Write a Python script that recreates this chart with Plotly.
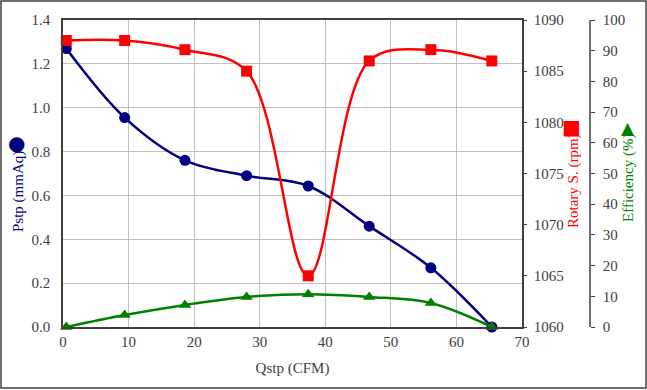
import plotly.graph_objects as go

qstp = [0.5, 9.4, 18.6, 28.0, 37.4, 46.7, 56.1, 65.4]
pstp = [1.27, 0.955, 0.76, 0.69, 0.643, 0.46, 0.27, 0.0]
rpm = [1088.0, 1088.0, 1087.1, 1085.0, 1065.0, 1086.0, 1087.1, 1086.0]
eff = [0.0, 3.9, 7.2, 9.8, 10.7, 9.8, 7.8, 0.0]

x_ticks = [0, 10, 20, 30, 40, 50, 60, 70]
p_ticks = [0.0, 0.2, 0.4, 0.6, 0.8, 1.0, 1.2, 1.4]
r_ticks = [1060, 1065, 1070, 1075, 1080, 1085, 1090]
e_ticks = [0, 10, 20, 30, 40, 50, 60, 70, 80, 90, 100]

NAVY = "#000080"
RED = "#ff0000"
GREEN = "#008000"
FONT = "Liberation Serif"
TICKC = "#404040"

fig = go.Figure()
fig.add_trace(go.Scatter(x=qstp, y=pstp, mode="lines+markers", line=dict(color=NAVY, width=2.5, shape="spline"),
                         marker=dict(symbol="circle", size=11, color=NAVY), yaxis="y", showlegend=False,
                         cliponaxis=False))
fig.add_trace(go.Scatter(x=qstp, y=rpm, mode="lines+markers", line=dict(color=RED, width=2.5, shape="spline"),
                         marker=dict(symbol="square", size=11, color=RED), yaxis="y2", showlegend=False,
                         cliponaxis=False))
fig.add_trace(go.Scatter(x=qstp, y=eff, mode="lines+markers", line=dict(color=GREEN, width=2.5, shape="spline"),
                         marker=dict(symbol="triangle-up", size=11, color=GREEN), yaxis="y3", showlegend=False,
                         cliponaxis=False))

W, H = 647, 390
l, r, t, b = 63, 20, 20, 63
pw = W - l - r
ph = H - t - b
xd1 = (522 - l) / pw
e_pos = (590 - l) / pw

tickfont = dict(family=FONT, size=15, color=TICKC)

fig.update_layout(
    template="none",
    width=W, height=H, margin=dict(l=l, r=r, t=t, b=b, autoexpand=False),
    plot_bgcolor="white", paper_bgcolor="white",
    font=dict(family=FONT, size=15, color=TICKC),
    xaxis=dict(domain=[0, xd1], range=[0, 70], tickvals=x_ticks, showgrid=True, gridcolor="#c0c0c0", gridwidth=1,
               showline=True, linecolor="#404040", linewidth=1.5, mirror=True, ticks="", zeroline=False,
               tickfont=tickfont, automargin=False,
               title=dict(text="Qstp (CFM)", font=dict(family=FONT, size=15, color=TICKC), standoff=14)),
    yaxis=dict(range=[0, 1.4], tickvals=p_ticks, ticktext=[f"{v:.1f}" for v in p_ticks], showgrid=True,
               gridcolor="#c0c0c0", gridwidth=1, showline=True, linecolor="#404040", linewidth=1.5, mirror=True,
               ticks="", zeroline=False, tickfont=tickfont, ticklabelstandoff=8, automargin=False),
    yaxis2=dict(range=[1060, 1090], tickvals=r_ticks, overlaying="y", side="right", anchor="x", showgrid=False,
                showline=True, linecolor="#404040", linewidth=1.5, ticks="outside", ticklen=3, tickcolor="#404040",
                zeroline=False, tickfont=tickfont, ticklabelstandoff=4, automargin=False),
    yaxis3=dict(range=[0, 100], tickvals=e_ticks, overlaying="y", side="right", anchor="free", position=e_pos,
                showgrid=False, showline=True, linecolor="#707070", linewidth=1.5, ticks="outside", ticklen=4,
                tickcolor="#404040", zeroline=False, tickfont=tickfont, ticklabelstandoff=5, automargin=False),
)

def px_to_paper(xp, yp):
    return (xp - l) / pw, (H - b - yp) / ph

annots = []
for txt, xp, yp, col in [("Pstp (mmAq)", 18, 192, NAVY), ("Rotary S. (rpm)", 573, 181, RED),
                          ("Efficiency (%)", 628, 178, GREEN)]:
    xx, yy = px_to_paper(xp, yp)
    annots.append(dict(text=txt, x=xx, y=yy, xref="paper", yref="paper", showarrow=False, textangle=-90,
                       font=dict(family=FONT, size=15, color=col), xanchor="center", yanchor="middle"))
for sym, xp, yp, col, sz in [("●", 17, 143, NAVY, 20), ("■", 571, 127, RED, 20), ("▲", 628, 128, GREEN, 17)]:
    xx, yy = px_to_paper(xp, yp)
    annots.append(dict(text=sym, x=xx, y=yy, xref="paper", yref="paper", showarrow=False,
                       font=dict(family="DejaVu Sans", size=sz, color=col), xanchor="center", yanchor="middle"))
fig.update_layout(annotations=annots)

x0, y0 = px_to_paper(1, 388)
x1, y1 = px_to_paper(646, 1)
fig.add_shape(type="rect", xref="paper", yref="paper", x0=x0, y0=y0, x1=x1, y1=y1,
              line=dict(color="#404040", width=1.5), fillcolor="rgba(0,0,0,0)", layer="below")

fig.write_html("out.html", config={"displayModeBar": False},
               post_script="document.body.style.margin='0';document.body.style.overflow='hidden';")
